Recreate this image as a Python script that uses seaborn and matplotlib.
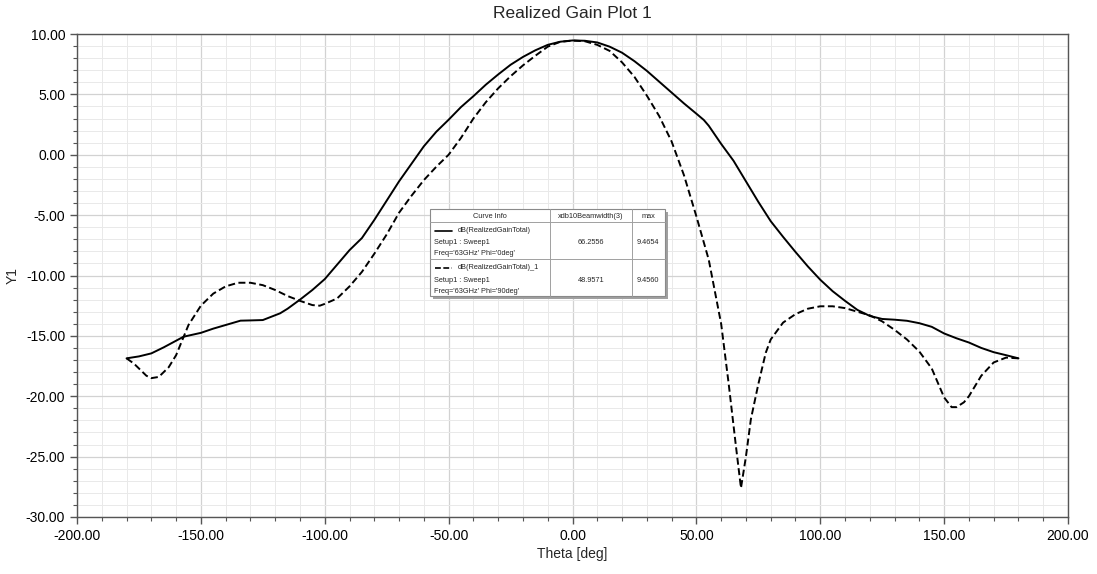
import numpy as np
import pandas as pd
import matplotlib.pyplot as plt
import seaborn as sns
from matplotlib.patches import Rectangle
from matplotlib.lines import Line2D
from matplotlib.ticker import MultipleLocator, FormatStrFormatter

# Theta [deg] and realized gain [dB]
theta_phi0 = [-180, -175, -170, -165, -160, -157, -150, -145, -140, -134, -130, -125,
              -118, -115, -110, -105, -100, -95, -90, -85, -80, -75, -70, -65, -60,
              -55, -50, -45, -40, -35, -30, -25, -20, -15, -10, -5, 0, 5, 10, 15, 20,
              25, 30, 35, 40, 45, 50, 53, 55, 58, 60, 65, 70, 75, 80, 85, 90, 95, 100,
              105, 110, 115, 120, 125, 130, 135, 140, 145, 150, 155, 160, 165, 170,
              175, 180]
gain_phi0 = [-16.86, -16.7, -16.45, -15.95, -15.4, -15.07, -14.75, -14.4, -14.1, -13.74,
             -13.72, -13.69, -13.13, -12.75, -12.0, -11.2, -10.3, -9.1, -7.9, -6.9, -5.4,
             -3.8, -2.2, -0.75, 0.7, 1.9, 2.9, 3.95, 4.85, 5.8, 6.65, 7.45, 8.1, 8.65,
             9.1, 9.36, 9.465, 9.44, 9.3, 8.95, 8.45, 7.75, 6.95, 6.05, 5.15, 4.25, 3.4,
             2.88, 2.4, 1.5, 0.9, -0.5, -2.2, -3.9, -5.5, -6.8, -8.05, -9.25, -10.35, -11.3,
             -12.1, -12.85, -13.35, -13.6, -13.66, -13.75, -13.95, -14.25, -14.8, -15.2,
             -15.55, -16.0, -16.35, -16.6, -16.86]

theta_phi90 = [-180, -177, -175, -172, -170, -167, -165, -163, -160, -157, -155, -150,
               -145, -140, -135, -130, -125, -120, -115, -110, -105, -102, -100, -95,
               -90, -85, -80, -75, -70, -65, -60, -55, -50, -45, -40, -35, -30, -25,
               -20, -15, -10, -5, 0, 5, 10, 15, 20, 25, 30, 35, 40, 45, 50, 55, 60, 63,
               66, 68, 70, 72, 75, 78, 80, 85, 90, 95, 100, 105, 110, 115, 120, 125, 130,
               135, 140, 145, 150, 153, 155, 158, 160, 165, 170, 175, 180]
gain_phi90 = [-16.86, -17.3, -17.7, -18.3, -18.5, -18.4, -18.0, -17.6, -16.6, -15.1,
              -14.1, -12.5, -11.5, -10.9, -10.6, -10.6, -10.8, -11.2, -11.7, -12.1,
              -12.45, -12.5, -12.35, -11.9, -10.9, -9.7, -8.2, -6.6, -4.8, -3.4, -2.1,
              -1.0, 0.0, 1.4, 3.0, 4.35, 5.5, 6.5, 7.4, 8.2, 8.95, 9.35, 9.456, 9.4,
              9.1, 8.6, 7.65, 6.45, 4.9, 3.2, 1.1, -1.7, -5.1, -8.7, -14.0, -18.9, -24.2,
              -27.6, -25.0, -21.9, -19.0, -16.4, -15.3, -13.9, -13.2, -12.75, -12.55,
              -12.55, -12.7, -13.0, -13.3, -13.8, -14.5, -15.3, -16.3, -17.7, -20.1,
              -20.9, -20.9, -20.5, -20.0, -18.3, -17.2, -16.8, -16.86]

curve_names = ["dB(RealizedGainTotal)", "dB(RealizedGainTotal)_1"]
curve_phi = ["Freq='63GHz' Phi='0deg'", "Freq='63GHz' Phi='90deg'"]
beamwidth = ["66.2556", "48.9571"]
max_gain = ["9.4654", "9.4560"]

sns.set_theme(style="white")
plt.rcParams['font.family'] = ['Liberation Sans', 'DejaVu Sans']

W, H = 1097, 574
fig = plt.figure(figsize=(W / 100, H / 100), dpi=100, facecolor='white')
ax = fig.add_axes([77 / W, 1 - 517 / H, (1068 - 77) / W, (517 - 34) / H])

dash = (0, (3.6, 1.8))
sns.lineplot(x=theta_phi0, y=gain_phi0, ax=ax, color='black', lw=1.4, sort=False)
sns.lineplot(x=theta_phi90, y=gain_phi90, ax=ax, color='black', lw=1.4, sort=False,
             linestyle=dash)

ax.set_xlim(-200, 200)
ax.set_ylim(-30, 10)
ax.xaxis.set_major_locator(MultipleLocator(50))
ax.xaxis.set_minor_locator(MultipleLocator(10))
ax.yaxis.set_major_locator(MultipleLocator(5))
ax.yaxis.set_minor_locator(MultipleLocator(1))
ax.xaxis.set_major_formatter(FormatStrFormatter('%.2f'))
ax.yaxis.set_major_formatter(FormatStrFormatter('%.2f'))
ax.grid(which='major', color='#d2d2d2', lw=0.9)
ax.grid(which='minor', color='#e9e9e9', lw=0.7)
ax.set_axisbelow(True)
for s in ax.spines.values():
    s.set_color('#555555')
    s.set_linewidth(1.0)
ax.tick_params(which='both', bottom=True, left=True, direction='out', colors='#555555',
               labelcolor='black', labelsize=10)
ax.tick_params(which='major', length=5, width=1)
ax.tick_params(which='minor', length=3, width=0.8)

ax.set_xlabel("Theta [deg]", fontsize=10, labelpad=3)
ax.set_ylabel("Y1", fontsize=10, labelpad=4)
fig.text(572 / W, 1 - 13 / H, "Realized Gain Plot 1", ha='center', va='center',
         fontsize=12.5)

# curve info table
def fx(px):
    return px / W

def fy(py):
    return 1 - py / H

tl, tr, tt, tb = 430, 665, 209, 296
fig.patches.append(Rectangle((fx(tl + 3), fy(tb + 3)), fx(tr - tl), (tb - tt) / H,
                             transform=fig.transFigure, facecolor='#a0a0a0',
                             edgecolor='none', zorder=5))
fig.patches.append(Rectangle((fx(tl), fy(tb)), fx(tr - tl), (tb - tt) / H,
                             transform=fig.transFigure, facecolor='white',
                             edgecolor='#8a8a8a', lw=0.8, zorder=6))
for xc in (550, 632):
    fig.lines.append(Line2D([fx(xc), fx(xc)], [fy(tt), fy(tb)], transform=fig.transFigure,
                            color='#a0a0a0', lw=0.7, zorder=7))
for yc in (222, 259):
    fig.lines.append(Line2D([fx(tl), fx(tr)], [fy(yc), fy(yc)], transform=fig.transFigure,
                            color='#a0a0a0', lw=0.7, zorder=7))

fs = 5.3
fig.text(fx(490), fy(216), "Curve Info", ha='center', va='center', fontsize=fs, zorder=8)
fig.text(fx(591), fy(216), "xdb10Beamwidth(3)", ha='center', va='center', fontsize=fs, zorder=8)
fig.text(fx(648), fy(216), "max", ha='center', va='center', fontsize=fs, zorder=8)
for i, row_top in enumerate((222, 259)):
    y0 = row_top + 9
    ls = '-' if i == 0 else (0, (3.5, 1.5))
    fig.lines.append(Line2D([fx(435), fx(452)], [fy(y0), fy(y0)], transform=fig.transFigure,
                            color='black', lw=1.2, linestyle=ls, zorder=8))
    fig.text(fx(458), fy(y0), curve_names[i], ha='left', va='center', fontsize=fs, zorder=8)
    fig.text(fx(434), fy(y0 + 12), "Setup1 : Sweep1", ha='left', va='center', fontsize=fs,
             zorder=8)
    fig.text(fx(434), fy(y0 + 23), curve_phi[i], ha='left', va='center', fontsize=fs, zorder=8)
    fig.text(fx(591), fy(y0 + 12), beamwidth[i], ha='center', va='center', fontsize=fs, zorder=8)
    fig.text(fx(648), fy(y0 + 12), max_gain[i], ha='center', va='center', fontsize=fs, zorder=8)

fig.savefig('out.png', dpi=100, facecolor='white')
